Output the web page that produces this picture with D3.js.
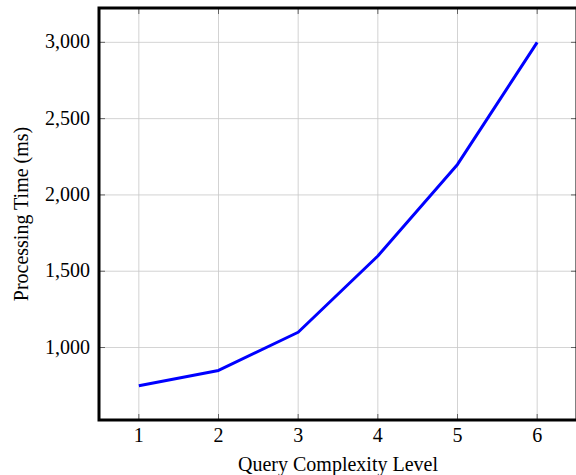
<!DOCTYPE html>
<html>
<head>
<meta charset="utf-8">
<script src="https://cdn.jsdelivr.net/npm/d3@7"></script>
<style>
  body { margin: 0; background: #fff; }
  svg { display: block; }
  text { font-family: "Liberation Serif", "DejaVu Serif", serif; fill: #000; }
</style>
</head>
<body>
<svg id="chart" width="576" height="475"></svg>
<script>
// données
var levels = [1, 2, 3, 4, 5, 6];
var times = [750, 850, 1100, 1600, 2200, 3000];
var yTickValues = [1000, 1500, 2000, 2500, 3000];

var W = 576, H = 475;
var mLeft = 99, mRight = 577, mTop = 8, mBottom = 420;

var svg = d3.select("#chart");

// limites élargies de 10 % comme pgfplots
var xPad = (d3.max(levels) - d3.min(levels)) * 0.1;
var yPad = (d3.max(times) - d3.min(times)) * 0.1;

var x = d3.scaleLinear()
  .domain([d3.min(levels) - xPad, d3.max(levels) + xPad])
  .range([mLeft, mRight]);
var y = d3.scaleLinear()
  .domain([d3.min(times) - yPad, d3.max(times) + yPad])
  .range([mBottom, mTop]);

var fmt = d3.format(",");

// grille
svg.append("g").selectAll("line")
  .data(levels).enter().append("line")
  .attr("x1", function(d){ return x(d); }).attr("x2", function(d){ return x(d); })
  .attr("y1", mTop).attr("y2", mBottom)
  .attr("stroke", "#c8c8c8").attr("stroke-width", 0.8);
svg.append("g").selectAll("line")
  .data(yTickValues).enter().append("line")
  .attr("x1", mLeft).attr("x2", mRight)
  .attr("y1", function(d){ return y(d); }).attr("y2", function(d){ return y(d); })
  .attr("stroke", "#c8c8c8").attr("stroke-width", 0.8);

// petites graduations intérieures (haut, bas, gauche, droite)
var tl = 6;
var ticks = svg.append("g").attr("stroke", "#555").attr("stroke-width", 0.9);
levels.forEach(function(d){
  ticks.append("line").attr("x1", x(d)).attr("x2", x(d)).attr("y1", mBottom).attr("y2", mBottom - tl);
  ticks.append("line").attr("x1", x(d)).attr("x2", x(d)).attr("y1", mTop).attr("y2", mTop + tl);
});
yTickValues.forEach(function(d){
  ticks.append("line").attr("x1", mLeft).attr("x2", mLeft + tl).attr("y1", y(d)).attr("y2", y(d));
  ticks.append("line").attr("x1", mRight).attr("x2", mRight - tl).attr("y1", y(d)).attr("y2", y(d));
});

// courbe
var line = d3.line()
  .x(function(d, i){ return x(levels[i]); })
  .y(function(d){ return y(d); });
svg.append("path")
  .datum(times)
  .attr("d", line)
  .attr("fill", "none")
  .attr("stroke", "#0000ff")
  .attr("stroke-width", 3)
  .attr("stroke-linejoin", "round");

// cadre
svg.append("rect")
  .attr("x", mLeft).attr("y", mTop)
  .attr("width", mRight - mLeft).attr("height", mBottom - mTop)
  .attr("fill", "none").attr("stroke", "#000").attr("stroke-width", 3);

// étiquettes des graduations
svg.append("g").selectAll("text")
  .data(levels).enter().append("text")
  .attr("x", function(d){ return x(d); })
  .attr("y", mBottom + 22)
  .attr("text-anchor", "middle")
  .style("font-size", "20px")
  .text(function(d){ return d; });
svg.append("g").selectAll("text")
  .data(yTickValues).enter().append("text")
  .attr("x", mLeft - 9)
  .attr("y", function(d){ return y(d) + 6; })
  .attr("text-anchor", "end")
  .style("font-size", "20px")
  .text(function(d){ return fmt(d); });

// titres des axes
svg.append("text")
  .attr("x", (mLeft + mRight) / 2)
  .attr("y", 471)
  .attr("text-anchor", "middle")
  .style("font-size", "20px")
  .text("Query Complexity Level");
svg.append("text")
  .attr("transform", "translate(28," + ((mTop + mBottom) / 2) + ") rotate(-90)")
  .attr("text-anchor", "middle")
  .style("font-size", "20px")
  .text("Processing Time (ms)");
</script>
</body>
</html>
